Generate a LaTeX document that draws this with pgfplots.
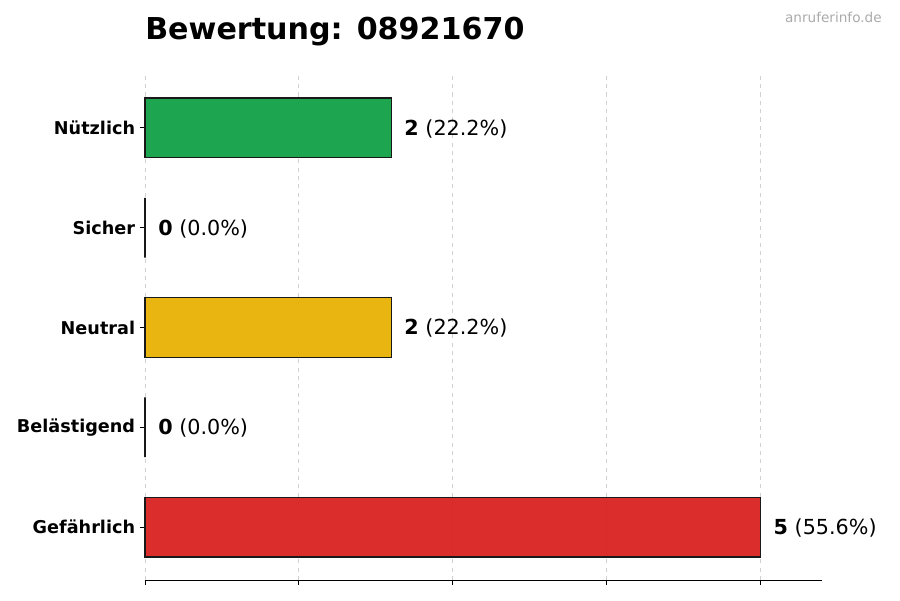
\documentclass[border=0pt]{standalone}
\usepackage{fontspec}
\setmainfont{DejaVu Sans}
\usepackage{pgfplots}
\pgfplotsset{compat=1.18}
\definecolor{nutz}{HTML}{12A046}
\definecolor{neut}{HTML}{E8B204}
\definecolor{gef}{HTML}{DA2222}
\definecolor{wm}{HTML}{AAAAAA}
\begin{document}
\begin{tikzpicture}
\path[use as bounding box] (0pt,0pt) rectangle (648pt,432pt);
% title and watermark
\node[anchor=base west, inner sep=0pt, font=\fontsize{21.7}{26}\selectfont\bfseries] at (104.4pt,403.7pt) {Bewertung: 08921670};
\node[anchor=base east, inner sep=0pt, text=wm, font=\fontsize{9.8}{12}\selectfont] at (635pt,415.8pt) {anruferinfo.de};
\begin{axis}[
    at={(104.4pt,14.4pt)}, anchor=south west,
    scale only axis, width=487.4pt, height=363.6pt,
    xmin=0, xmax=5.5, ymin=-0.53, ymax=4.53,
    xbar, bar width=0.6, bar shift=0pt,
    clip=false,
    ytick={0,1,2,3,4},
    yticklabels={Gefährlich,Belästigend,Neutral,Sicher,Nützlich},
    xtick={0,1.25,2.5,3.75,5}, xticklabels={},
    xmajorgrids, grid style={black!18, dashed, line width=0.6pt},
    axis x line*=bottom, axis y line*=left,
    x axis line style={-, line width=0.7pt},
    y axis line style={draw=none},
    tick align=outside, major tick length=3.6pt,
    tick style={black, line width=0.6pt},
    yticklabel style={font=\fontsize{12.7}{15}\selectfont\bfseries},
    every axis plot/.append style={draw=black!90, line width=0.8pt, fill opacity=0.95},
  ]
  \addplot[fill=nutz] coordinates {(2,4)};
  \addplot[fill=white] coordinates {(0,3)};
  \addplot[fill=neut] coordinates {(2,2)};
  \addplot[fill=white] coordinates {(0,1)};
  \addplot[fill=gef] coordinates {(5,0)};
  \begin{scope}[every node/.style={anchor=west, inner sep=0pt, xshift=9.4pt, yshift=-0.6pt, font=\fontsize{14.9}{18}\selectfont}]
  \node at (axis cs:2,4) {\textbf{2} (22.2\%)};
  \node at (axis cs:0,3) {\textbf{0} (0.0\%)};
  \node at (axis cs:2,2) {\textbf{2} (22.2\%)};
  \node at (axis cs:0,1) {\textbf{0} (0.0\%)};
  \node at (axis cs:5,0) {\textbf{5} (55.6\%)};
  \end{scope}
\end{axis}
\end{tikzpicture}
\end{document}
